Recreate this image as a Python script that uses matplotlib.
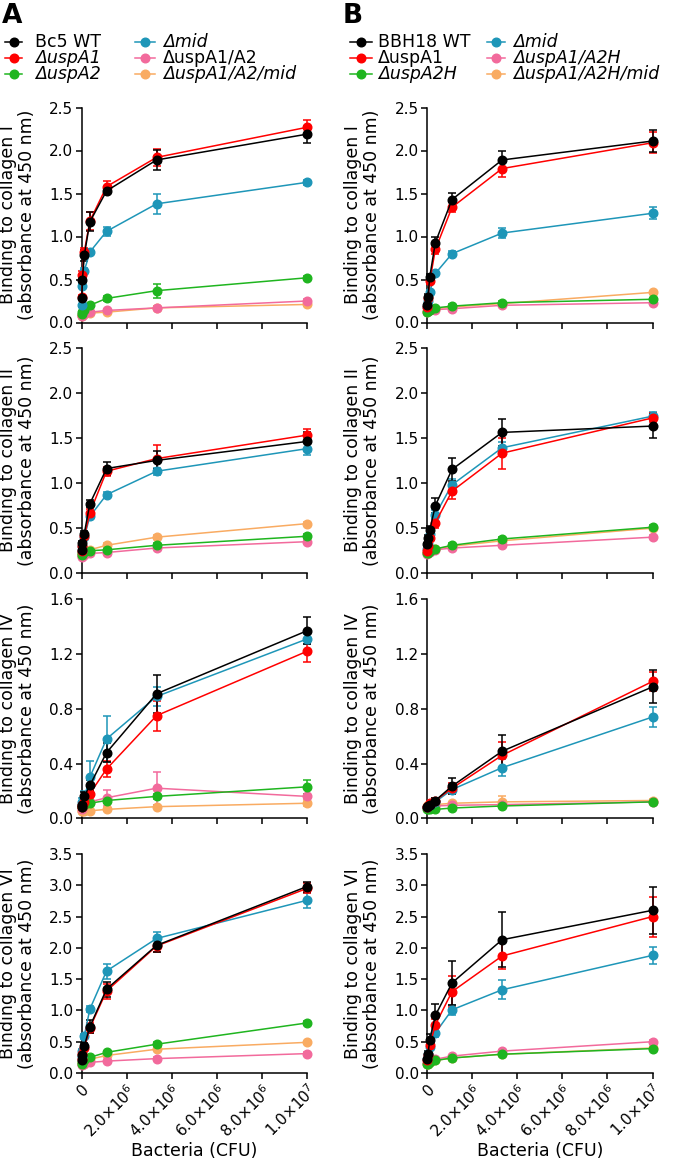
import matplotlib
matplotlib.use('Agg')
import matplotlib.pyplot as plt
from matplotlib.lines import Line2D

plt.rcParams['font.family'] = ['DejaVu Sans']

W, H = 680, 1162

# bacteria added per well (3-fold dilutions)
cfu = [1.37e4, 4.12e4, 1.23e5, 3.70e5, 1.11e6, 3.33e6, 1.0e7]

strains_a = ['Bc5 WT', 'ΔuspA1', 'ΔuspA2', 'Δmid', 'ΔuspA1/A2', 'ΔuspA1/A2/mid']
italic_a = [False, True, True, True, False, True]
strains_b = ['BBH18 WT', 'ΔuspA1', 'ΔuspA2H', 'Δmid', 'ΔuspA1/A2H', 'ΔuspA1/A2H/mid']
italic_b = [False, False, True, True, True, True]
colors = ['#000000', '#ff0000', '#1fb51f', '#1e96b8', '#f26a9c', '#f9ab62']
draw_order = [5, 4, 2, 3, 1, 0]

collagens = ['I', 'II', 'IV', 'VI']
ymax = [2.5, 2.5, 1.6, 3.5]
ystep = [0.5, 0.5, 0.4, 0.5]

# series order: WT, uspA1, uspA2, mid, uspA1/A2, uspA1/A2/mid
a_col1 = [[0.28, 0.50, 0.78, 1.17, 1.53, 1.89, 2.19],
          [0.30, 0.55, 0.82, 1.18, 1.58, 1.92, 2.27],
          [0.10, 0.12, 0.15, 0.20, 0.28, 0.37, 0.52],
          [0.20, 0.43, 0.60, 0.82, 1.06, 1.38, 1.63],
          [0.08, 0.09, 0.10, 0.12, 0.14, 0.17, 0.25],
          [0.08, 0.09, 0.10, 0.11, 0.12, 0.17, 0.21]]
a_col1_err = [[0.02, 0.03, 0.06, 0.11, 0.03, 0.12, 0.10],
              [0.02, 0.05, 0.05, 0.10, 0.06, 0.10, 0.09],
              [0.01, 0.01, 0.02, 0.02, 0.03, 0.08, 0.02],
              [0.02, 0.03, 0.03, 0.03, 0.05, 0.12, 0.03],
              [0.01, 0.01, 0.01, 0.01, 0.02, 0.02, 0.02],
              [0.01, 0.01, 0.01, 0.01, 0.02, 0.02, 0.02]]

a_col2 = [[0.26, 0.33, 0.44, 0.77, 1.16, 1.25, 1.46],
          [0.25, 0.30, 0.41, 0.67, 1.13, 1.27, 1.53],
          [0.20, 0.22, 0.24, 0.25, 0.26, 0.31, 0.41],
          [0.25, 0.30, 0.40, 0.63, 0.87, 1.13, 1.38],
          [0.18, 0.19, 0.20, 0.22, 0.23, 0.28, 0.35],
          [0.20, 0.22, 0.24, 0.26, 0.31, 0.40, 0.55]]
a_col2_err = [[0.02, 0.03, 0.03, 0.04, 0.07, 0.10, 0.10],
              [0.02, 0.02, 0.03, 0.04, 0.05, 0.15, 0.07],
              [0.01, 0.01, 0.01, 0.01, 0.02, 0.02, 0.02],
              [0.02, 0.02, 0.03, 0.03, 0.03, 0.04, 0.07],
              [0.01, 0.01, 0.01, 0.01, 0.01, 0.02, 0.02],
              [0.01, 0.01, 0.01, 0.01, 0.02, 0.02, 0.02]]

a_col4 = [[0.085, 0.10, 0.16, 0.24, 0.48, 0.91, 1.37],
          [0.08, 0.10, 0.12, 0.18, 0.36, 0.75, 1.22],
          [0.08, 0.09, 0.10, 0.11, 0.13, 0.16, 0.23],
          [0.10, 0.12, 0.15, 0.30, 0.58, 0.89, 1.31],
          [0.07, 0.08, 0.10, 0.12, 0.15, 0.22, 0.16],
          [0.05, 0.05, 0.05, 0.055, 0.065, 0.085, 0.11]]
a_col4_err = [[0.01, 0.02, 0.03, 0.04, 0.07, 0.14, 0.10],
              [0.01, 0.02, 0.02, 0.03, 0.06, 0.11, 0.08],
              [0.01, 0.01, 0.01, 0.01, 0.02, 0.02, 0.05],
              [0.02, 0.03, 0.05, 0.12, 0.17, 0.07, 0.04],
              [0.01, 0.02, 0.03, 0.06, 0.06, 0.12, 0.02],
              [0.01, 0.01, 0.01, 0.01, 0.01, 0.01, 0.02]]

a_col6 = [[0.20, 0.28, 0.43, 0.74, 1.34, 2.04, 2.98],
          [0.22, 0.30, 0.40, 0.72, 1.31, 2.03, 2.95],
          [0.15, 0.17, 0.20, 0.25, 0.33, 0.46, 0.80],
          [0.25, 0.35, 0.59, 1.02, 1.63, 2.15, 2.76],
          [0.13, 0.14, 0.15, 0.17, 0.19, 0.23, 0.31],
          [0.15, 0.16, 0.18, 0.22, 0.28, 0.38, 0.49]]
a_col6_err = [[0.02, 0.03, 0.05, 0.10, 0.12, 0.10, 0.08],
              [0.02, 0.03, 0.05, 0.08, 0.12, 0.10, 0.08],
              [0.01, 0.01, 0.02, 0.02, 0.02, 0.03, 0.03],
              [0.02, 0.03, 0.04, 0.05, 0.12, 0.10, 0.12],
              [0.01, 0.01, 0.01, 0.01, 0.02, 0.02, 0.02],
              [0.01, 0.01, 0.01, 0.02, 0.02, 0.02, 0.02]]

b_col1 = [[0.20, 0.30, 0.53, 0.93, 1.43, 1.89, 2.11],
          [0.18, 0.28, 0.48, 0.85, 1.34, 1.79, 2.09],
          [0.12, 0.13, 0.15, 0.17, 0.19, 0.23, 0.27],
          [0.18, 0.25, 0.36, 0.57, 0.80, 1.04, 1.27],
          [0.12, 0.13, 0.14, 0.15, 0.16, 0.20, 0.23],
          [0.13, 0.14, 0.15, 0.16, 0.18, 0.22, 0.35]]
b_col1_err = [[0.02, 0.03, 0.03, 0.07, 0.08, 0.11, 0.13],
              [0.02, 0.03, 0.03, 0.05, 0.06, 0.10, 0.12],
              [0.01, 0.01, 0.01, 0.01, 0.02, 0.02, 0.02],
              [0.02, 0.02, 0.02, 0.02, 0.03, 0.06, 0.07],
              [0.01, 0.01, 0.01, 0.01, 0.01, 0.02, 0.02],
              [0.01, 0.01, 0.01, 0.01, 0.02, 0.02, 0.02]]

b_col2 = [[0.32, 0.39, 0.48, 0.75, 1.15, 1.56, 1.63],
          [0.25, 0.30, 0.39, 0.56, 0.91, 1.33, 1.72],
          [0.22, 0.23, 0.25, 0.27, 0.31, 0.38, 0.51],
          [0.27, 0.32, 0.44, 0.65, 0.98, 1.39, 1.74],
          [0.21, 0.22, 0.24, 0.26, 0.28, 0.31, 0.40],
          [0.22, 0.23, 0.25, 0.27, 0.30, 0.36, 0.50]]
b_col2_err = [[0.02, 0.03, 0.04, 0.08, 0.13, 0.15, 0.13],
              [0.02, 0.02, 0.03, 0.06, 0.09, 0.17, 0.05],
              [0.01, 0.01, 0.01, 0.01, 0.02, 0.02, 0.02],
              [0.02, 0.03, 0.04, 0.05, 0.06, 0.06, 0.05],
              [0.01, 0.01, 0.01, 0.01, 0.01, 0.02, 0.02],
              [0.01, 0.01, 0.01, 0.01, 0.02, 0.02, 0.02]]

b_col4 = [[0.08, 0.09, 0.10, 0.13, 0.235, 0.49, 0.96],
          [0.08, 0.09, 0.11, 0.13, 0.22, 0.46, 1.00],
          [0.07, 0.07, 0.065, 0.065, 0.075, 0.09, 0.12],
          [0.08, 0.09, 0.10, 0.12, 0.21, 0.37, 0.74],
          [0.08, 0.085, 0.09, 0.09, 0.095, 0.10, 0.12],
          [0.09, 0.095, 0.10, 0.10, 0.11, 0.12, 0.13]]
b_col4_err = [[0.01, 0.01, 0.01, 0.02, 0.06, 0.12, 0.12],
              [0.01, 0.01, 0.01, 0.02, 0.04, 0.10, 0.07],
              [0.01, 0.01, 0.01, 0.01, 0.01, 0.01, 0.01],
              [0.01, 0.01, 0.01, 0.02, 0.02, 0.06, 0.07],
              [0.01, 0.01, 0.01, 0.01, 0.01, 0.02, 0.01],
              [0.01, 0.01, 0.01, 0.01, 0.01, 0.04, 0.01]]

b_col6 = [[0.22, 0.30, 0.53, 0.92, 1.44, 2.13, 2.60],
          [0.20, 0.28, 0.44, 0.77, 1.30, 1.87, 2.50],
          [0.14, 0.15, 0.17, 0.20, 0.24, 0.30, 0.39],
          [0.22, 0.30, 0.42, 0.64, 1.01, 1.33, 1.88],
          [0.16, 0.18, 0.20, 0.22, 0.27, 0.35, 0.50],
          [0.14, 0.15, 0.17, 0.20, 0.24, 0.30, 0.40]]
b_col6_err = [[0.02, 0.05, 0.10, 0.18, 0.35, 0.44, 0.38],
              [0.02, 0.04, 0.06, 0.10, 0.25, 0.20, 0.32],
              [0.01, 0.01, 0.01, 0.01, 0.02, 0.02, 0.02],
              [0.02, 0.03, 0.04, 0.06, 0.08, 0.15, 0.14],
              [0.01, 0.01, 0.01, 0.01, 0.02, 0.02, 0.02],
              [0.01, 0.01, 0.01, 0.01, 0.02, 0.02, 0.02]]

panels_a = [(a_col1, a_col1_err), (a_col2, a_col2_err), (a_col4, a_col4_err), (a_col6, a_col6_err)]
panels_b = [(b_col1, b_col1_err), (b_col2, b_col2_err), (b_col4, b_col4_err), (b_col6, b_col6_err)]

# layout in pixels
col_left = [81.5, 427.0]
col_width = 225.5
rows_px = [(107.5, 322.5), (347.5, 573.3), (599.3, 818.3), (854.0, 1073.0)]

xticks = [0, 2e6, 4e6, 6e6, 8e6, 1e7]
xticklabels = ['0', r'2.0×10$^6$', r'4.0×10$^6$', r'6.0×10$^6$', r'8.0×10$^6$', r'1.0×10$^7$']

fig = plt.figure(figsize=(W / 100, H / 100), dpi=100)

for c, panels in enumerate([panels_a, panels_b]):
    for r, (vals, errs) in enumerate(panels):
        top, bot = rows_px[r]
        ax = fig.add_axes([col_left[c] / W, 1 - bot / H, col_width / W, (bot - top) / H])
        for k in draw_order:
            ax.errorbar(cfu, vals[k], yerr=errs[k], color=colors[k], marker='o', ms=6.2,
                        lw=1.1, elinewidth=1.1, capsize=3, capthick=1.1, clip_on=False, zorder=3)
        ax.set_xlim(0, 1e7)
        ax.set_ylim(0, ymax[r])
        n = int(round(ymax[r] / ystep[r]))
        yt = [i * ystep[r] for i in range(n + 1)]
        ax.set_yticks(yt)
        ax.set_yticklabels([f'{v:.1f}' for v in yt], fontsize=11)
        ax.set_xticks(xticks)
        if r == 3:
            ax.set_xticklabels(xticklabels, rotation=45, ha='right', va='top',
                               rotation_mode='anchor', fontsize=11)
            ax.set_xlabel('Bacteria (CFU)', fontsize=12.5, labelpad=1)
        else:
            ax.set_xticklabels([])
        for s in ['top', 'right']:
            ax.spines[s].set_visible(False)
        for s in ['left', 'bottom']:
            ax.spines[s].set_linewidth(1.1)
        ax.tick_params(direction='out', length=4, width=1.1, pad=2)
        ax.set_ylabel(f'Binding to collagen {collagens[r]}\n(absorbance at 450 nm)',
                      fontsize=12.5, linespacing=1.05)
        ax.yaxis.label.set_va('center')
        ax.yaxis.set_label_coords(-0.285, 0.5)

# panel letters
fig.text(2 / W, 1 - 3 / H, 'A', fontsize=19, fontweight='bold', va='top', ha='left')
fig.text(343 / W, 1 - 3 / H, 'B', fontsize=19, fontweight='bold', va='top', ha='left')

# legends drawn by hand to match the tight row spacing
leg_rows_y = [42, 58, 74]
leg_cols = [[(5, 22, 35), (135, 155, 163)], [(350, 372, 378), (487, 505, 513)]]
for c, (names, ital) in enumerate([(strains_a, italic_a), (strains_b, italic_b)]):
    for k in range(6):
        x0, x1, xt = leg_cols[c][k // 3]
        y = 1 - leg_rows_y[k % 3] / H
        fig.add_artist(Line2D([x0 / W, x1 / W], [y, y], color=colors[k], lw=1.1,
                              transform=fig.transFigure))
        fig.add_artist(Line2D([(x0 + x1) / 2 / W], [y], color=colors[k], marker='o', ms=6.2,
                              transform=fig.transFigure))
        fig.text(xt / W, y, names[k], fontsize=12.5, va='center', ha='left',
                 style='italic' if ital[k] else 'normal')

fig.savefig('out.png', dpi=100)
